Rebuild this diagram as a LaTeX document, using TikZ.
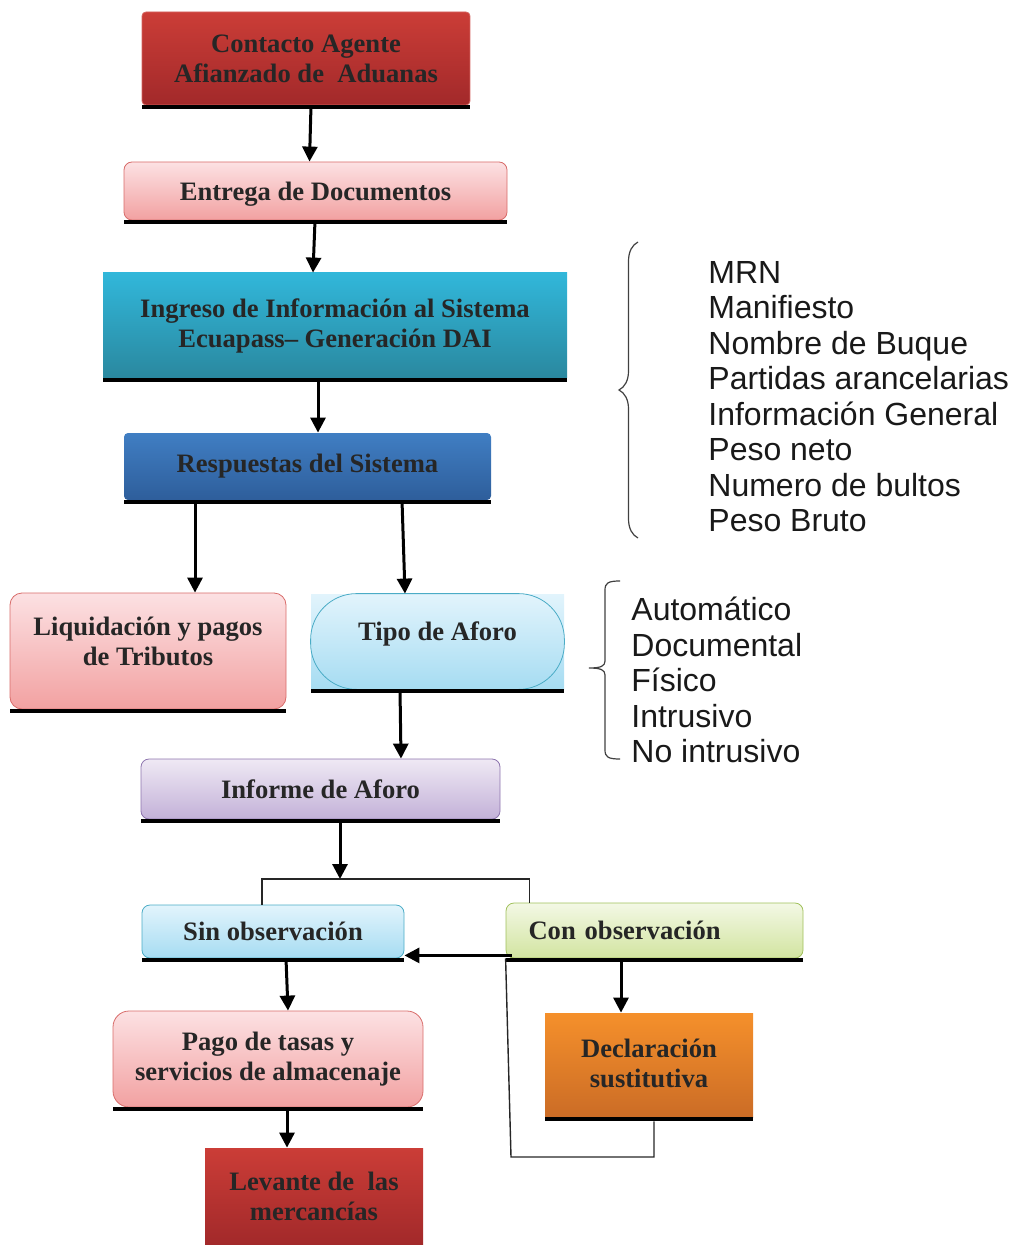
\documentclass[tikz,border=0pt]{standalone}
\usepackage{fontspec}
\setmainfont{Liberation Serif}
\newfontfamily\listfont{Liberation Sans}
\usetikzlibrary{arrows.meta,decorations.pathreplacing}

\definecolor{txt}{HTML}{262626}
\definecolor{rojoA}{HTML}{CB3D37}
\definecolor{rojoB}{HTML}{A2292A}
\definecolor{rosaA}{HTML}{FCE1E3}
\definecolor{rosaB}{HTML}{F2A1A1}
\definecolor{rosaL}{HTML}{D86C6A}
\definecolor{cianA}{HTML}{31B7DA}
\definecolor{cianB}{HTML}{2A889F}
\definecolor{azulA}{HTML}{407EC3}
\definecolor{azulB}{HTML}{2E5E9B}
\definecolor{celA}{HTML}{E2F4FC}
\definecolor{celB}{HTML}{A6DCF2}
\definecolor{celL}{HTML}{4BACC6}
\definecolor{lilaA}{HTML}{EFE9F4}
\definecolor{lilaB}{HTML}{C3B1D8}
\definecolor{lilaL}{HTML}{8D74AE}
\definecolor{verdeA}{HTML}{F3F8E5}
\definecolor{verdeB}{HTML}{D2E4A0}
\definecolor{verdeL}{HTML}{A0C05A}
\definecolor{narA}{HTML}{F5902B}
\definecolor{narB}{HTML}{CB6C26}

\begin{document}
\begin{tikzpicture}[x=0.5pt,y=-0.5pt,
  box/.style={rectangle,align=center,text=txt,inner sep=2pt,font=\bfseries\fontsize{13.3}{15}\selectfont},
  redbox/.style={box,top color=rojoA,bottom color=rojoB,draw=rojoA!80!white,rounded corners=2pt},
  pinkbox/.style={box,top color=rosaA,bottom color=rosaB,draw=rosaL,rounded corners=4pt},
  cyanbox/.style={box,top color=cianA,bottom color=cianB},
  bluebox/.style={box,top color=azulA,bottom color=azulB,rounded corners=2pt},
  skybox/.style={box,top color=celA,bottom color=celB,draw=celL,rounded corners=4pt},
  lilabox/.style={box,top color=lilaA,bottom color=lilaB,draw=lilaL,rounded corners=4pt},
  greenbox/.style={box,top color=verdeA,bottom color=verdeB,draw=verdeL,rounded corners=4pt},
  orangebox/.style={box,top color=narA,bottom color=narB},
  arr/.style={-{Triangle[length=7.5pt,width=7.5pt]},line width=1.5pt},
  link/.style={line width=0.7pt,draw=black!85},
  llave/.style={draw=black!75,line width=0.6pt},
  lista/.style={align=left,inner sep=0pt,text=black!90,font=\listfont\fontsize{16}{17.75}\selectfont}]

\useasboundingbox (0,0) rectangle (1011,1245);

% cajas
\node[redbox,minimum width=164pt,minimum height=46.5pt,text depth=-1pt] (cont) at (306,58.5) {Contacto Agente\\Afianzado de\ \ Aduanas};
\node[pinkbox,minimum width=191.5pt,minimum height=29pt,text depth=0pt] (ent) at (315.5,191) {Entrega de Documentos};
\node[cyanbox,minimum width=232pt,minimum height=52.5pt] (ing) at (335,325.5) {Ingreso de Información al Sistema\\Ecuapass– Generación DAI};
\node[bluebox,minimum width=183.5pt,minimum height=33.5pt] (resp) at (307.5,466.5) {Respuestas del Sistema};
\node[pinkbox,rounded corners=6pt,minimum width=138pt,minimum height=58pt,text depth=10pt] (liq) at (148,651) {Liquidación y pagos\\de Tributos};
\node[skybox,draw=none,sharp corners,minimum width=126.5pt,minimum height=47.5pt,text depth=10pt] (tipo) at (437.5,641.5) {Tipo de Aforo};
\draw[celL,rounded corners=23pt] (tipo.north west) rectangle (tipo.south east);
\node[lilabox,minimum width=179.5pt,minimum height=30pt] (inf) at (320.5,789) {Informe de Aforo};
\node[skybox,minimum width=131pt,minimum height=26.5pt,text depth=0pt] (sin) at (273,931.5) {Sin observación};
\node[greenbox,minimum width=148.5pt,minimum height=27.5pt,text width=126pt,align=left,text depth=0pt] (con) at (654.5,930.5) {Con observación};
\node[pinkbox,rounded corners=8pt,minimum width=155pt,minimum height=48pt] (pago) at (268,1059) {Pago de tasas y\\servicios de almacenaje};
\node[orangebox,minimum width=104pt,minimum height=52pt,text depth=2pt] (dec) at (649,1065) {Declaración\\sustitutiva};
\node[redbox,sharp corners,draw=none,minimum width=109pt,minimum height=48.5pt] (lev) at (314,1196.5) {Levante de\ \ las\\mercancías};

% barras negras bajo las cajas
\foreach \n in {cont,ent,ing,resp,liq,tipo,inf,sin,con,pago,dec}
  \fill (\n.south west) rectangle ([yshift=-2pt]\n.south east);

% flechas
\draw[arr] ([xshift=2.5pt]cont.south) -- ([xshift=-3pt]ent.north);
\draw[arr] ([xshift=-0.25pt]ent.south) -- ([xshift=-11pt]ing.north);
\draw[arr] ([xshift=-8.5pt]ing.south) -- ([xshift=5.25pt]resp.north);
\draw[arr] ([xshift=-56.25pt]resp.south) -- ([xshift=23.5pt]liq.north);
\draw[arr] ([xshift=47.25pt]resp.south) -- ([xshift=-16.25pt]tipo.north);
\draw[arr] ([xshift=-18.75pt]tipo.south) -- ([xshift=40.25pt]inf.north);
\coordinate (split) at (340,879);
\draw[arr] ([xshift=9.75pt]inf.south) -- (split);
\draw[link] ([xshift=-5.5pt]sin.north) |- (split) -| ([xshift=12pt]con.north west);
\draw[arr] ([xshift=6.5pt]sin.south) -- ([xshift=10pt]pago.north);
\draw[arr] ([xshift=9.5pt]pago.south) -- ([xshift=-13.5pt]lev.north);
\draw[arr] ([xshift=-16.75pt]con.south) -- ([xshift=-14pt]dec.north);
\draw[arr] ([xshift=3pt,yshift=1.5pt]con.south west) -- ([yshift=1.5pt]sin.south east);
\coordinate (ret) at (511,1157);
\draw[link] ([xshift=2.5pt,yshift=-2pt]dec.south) |- (ret) -- (con.south west);

% llaves y listas
\draw[llave,decorate,decoration={brace,amplitude=9.5pt}] (638,538) -- (638,242);
\node[lista,anchor=north west] (datos) at (708,261) {MRN\\Manifiesto\\Nombre de Buque\\Partidas arancelarias\\Información General\\Peso neto\\Numero de bultos\\Peso Bruto};
\draw[llave] (620,581) .. controls (608,581) and (605,583) .. (605,590) -- (605,661)
  .. controls (605,666) and (601,668) .. (589,668) .. controls (601,668) and (605,670) .. (605,675)
  -- (605,750) .. controls (605,757) and (608,759) .. (620,759);
\node[lista,anchor=north west] (aforos) at (631,597) {Automático\\Documental\\Físico\\Intrusivo\\No intrusivo};
\end{tikzpicture}
\end{document}
